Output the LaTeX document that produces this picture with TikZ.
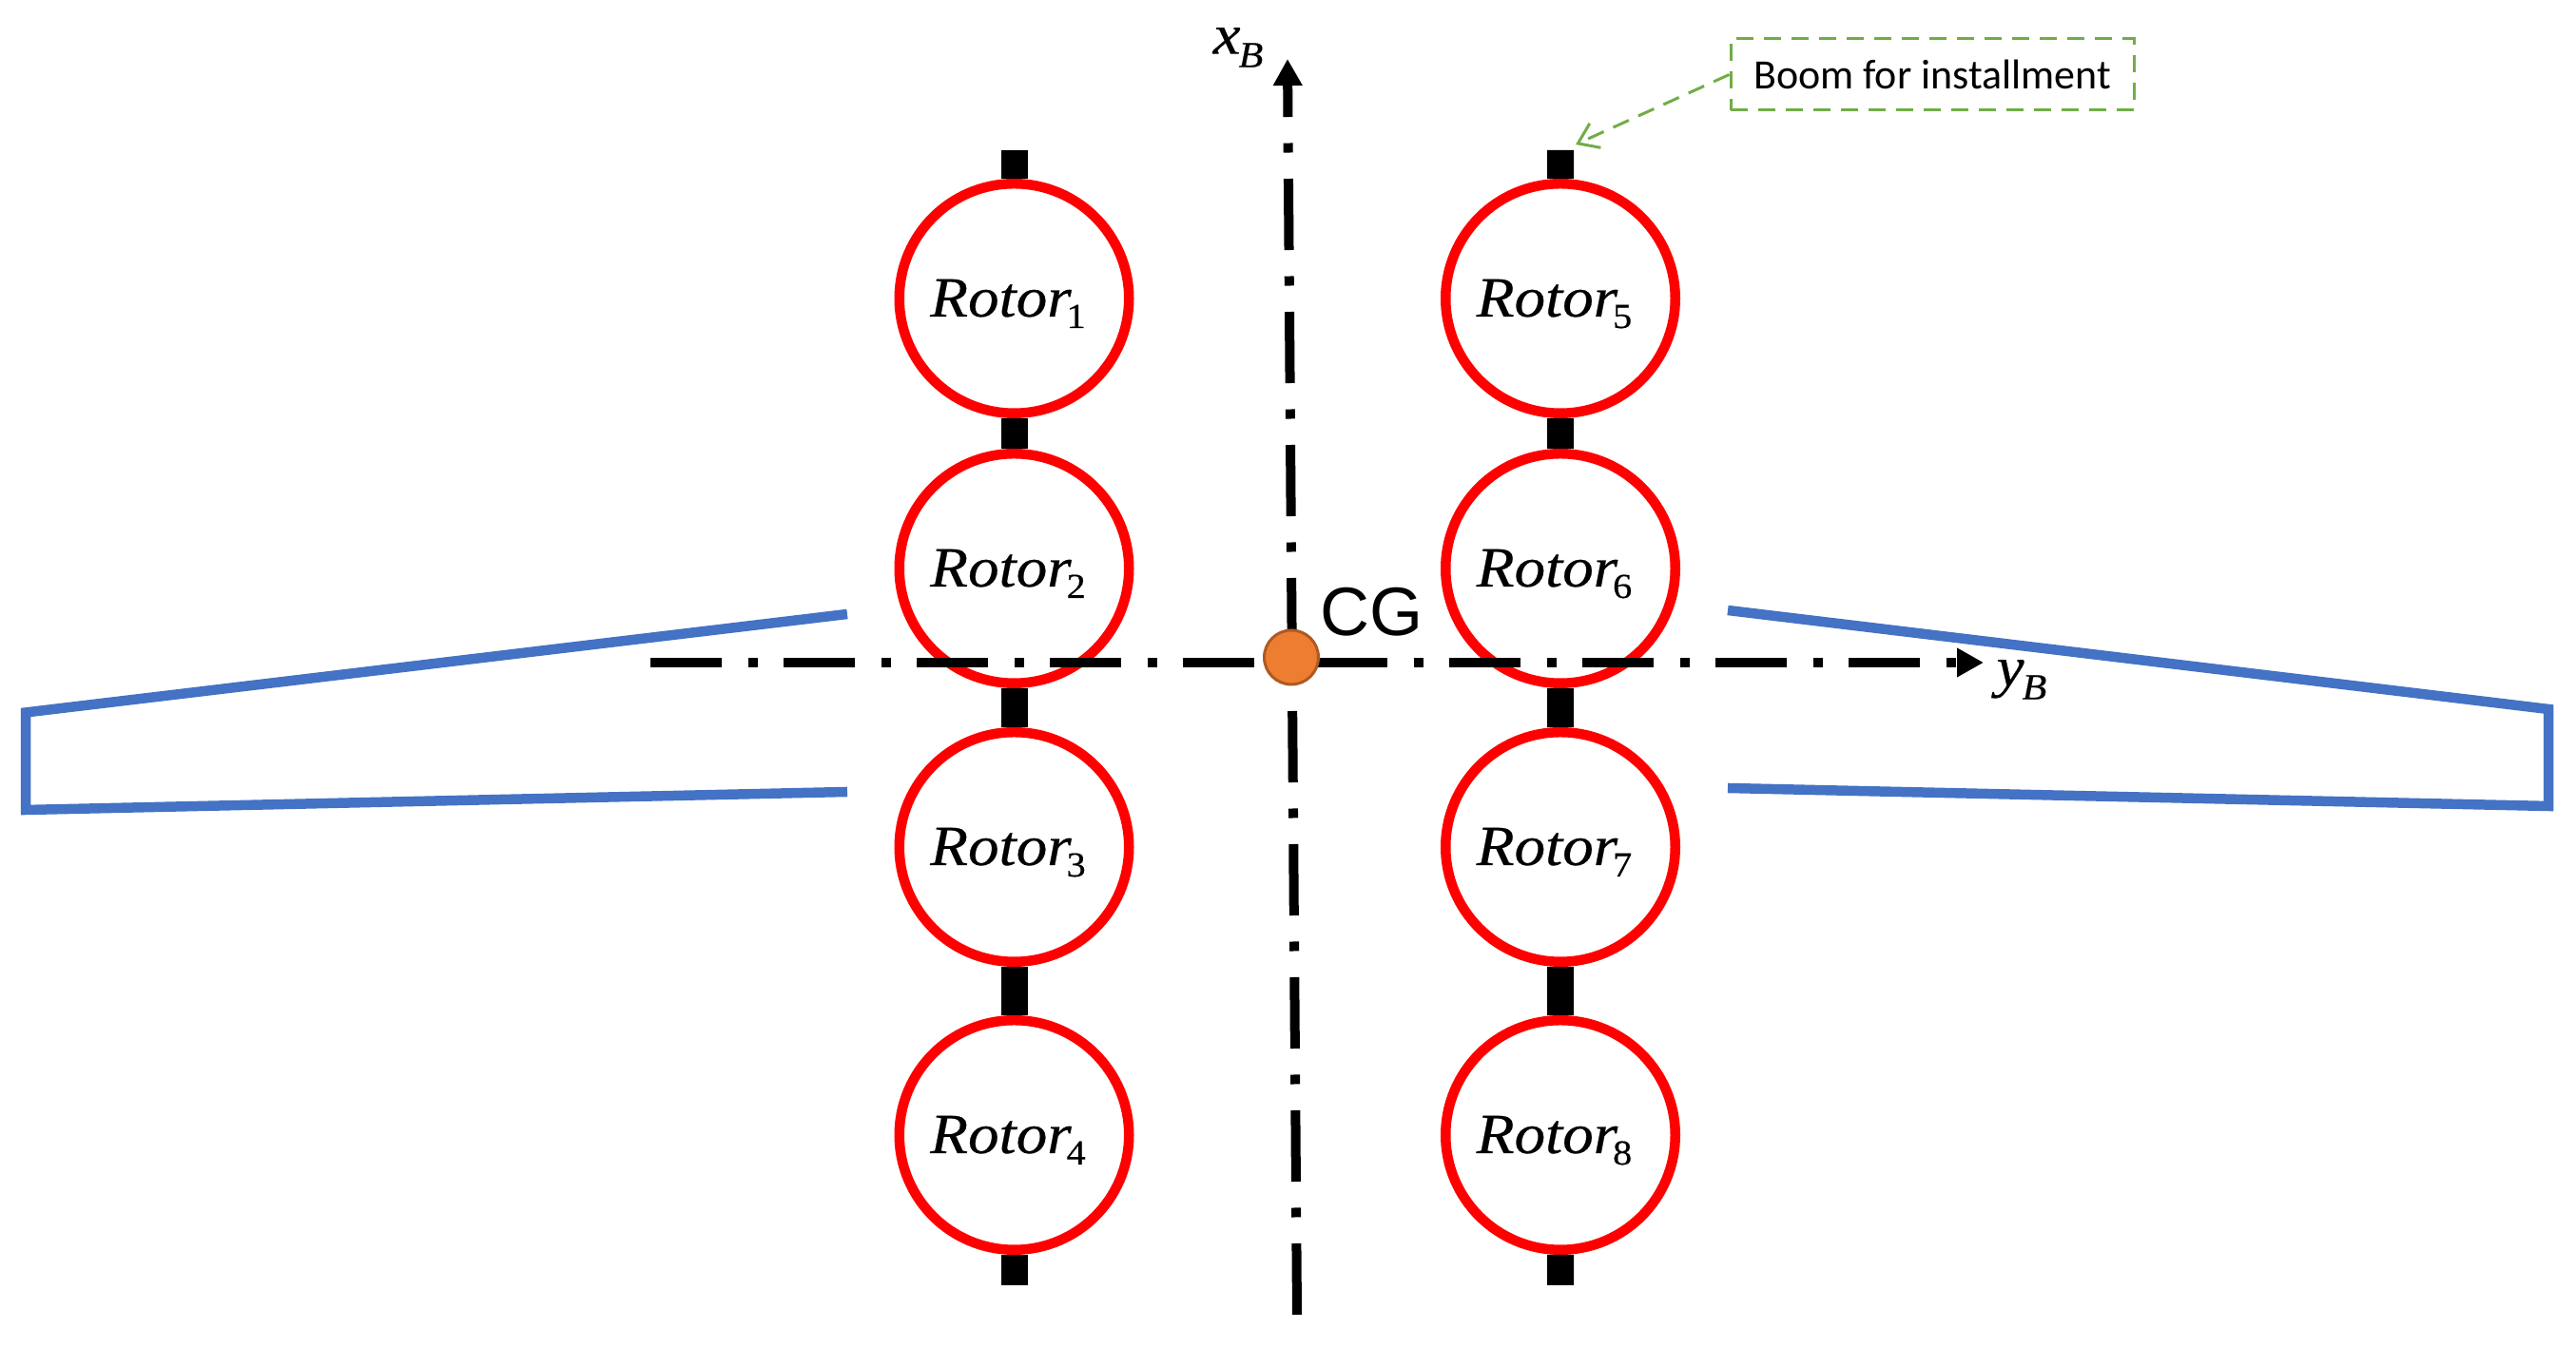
\documentclass[tikz,border=0pt]{standalone}
\usepackage{fontspec}
\usepackage{amsmath}
\usetikzlibrary{arrows.meta,positioning}
\setmainfont{Liberation Sans}
\newfontfamily\calloutfont{Carlito}
\newfontfamily\labelfont[FakeStretch=1.09,FakeBold=0.4]{Liberation Serif}
\definecolor{wingblue}{HTML}{4472C4}
\definecolor{calloutgreen}{HTML}{70AD47}
\definecolor{cgorange}{HTML}{ED7D31}
\definecolor{cgbrown}{HTML}{AE5A21}
\newcommand{\rotorname}[1]{\labelfont\fontsize{17}{18}\selectfont\itshape Rotor\kern-0.05cm\raisebox{-0.12cm}{\fontsize{10.5}{12}\selectfont\upshape #1}\kern0.13cm}
\newcommand{\axisname}[1]{\labelfont\fontsize{17}{18}\selectfont\itshape #1\kern-0.02cm\raisebox{-0.14cm}{\fontsize{11}{12}\selectfont B}}
\tikzset{
  rotor/.style={circle, draw=red, fill=white, line width=0.105cm, minimum size=2.415cm, inner sep=0pt, text height=0.38cm, text depth=0cm},
  boom/.style={line width=0.28cm},
  axis/.style={line width=0.1cm, dash pattern=on 0.75cm off 0.275cm on 0.1cm off 0.275cm, -{Triangle[length=0.28cm,width=0.29cm]}},
  wing/.style={draw=wingblue, line width=0.105cm, line join=miter},
  calloutline/.style={draw=calloutgreen, line width=0.03cm, dash pattern=on 0.18cm off 0.11cm}
}

\begin{document}
\begin{tikzpicture}[node distance=2.84cm]
    \useasboundingbox (0,0) rectangle (27.09,14.18);

    \node[rotor] (rotor1) at (10.665,11.04) {\rotorname{1}};
    \node[rotor, below of=rotor1] (rotor2) {\rotorname{2}};
    \node[rotor, below of=rotor2, node distance=2.93cm] (rotor3) {\rotorname{3}};
    \node[rotor, below of=rotor3, node distance=3.03cm] (rotor4) {\rotorname{4}};
    \node[rotor, right of=rotor1, node distance=5.745cm] (rotor5) {\rotorname{5}};
    \node[rotor, below of=rotor5] (rotor6) {\rotorname{6}};
    \node[rotor, below of=rotor6, node distance=2.93cm] (rotor7) {\rotorname{7}};
    \node[rotor, below of=rotor7, node distance=3.03cm] (rotor8) {\rotorname{8}};

    % boom ends
    \coordinate (boomtopl) at (10.665,12.60);
    \coordinate (boomtopr) at (16.41,12.60);
    \coordinate (boombotl) at (10.665,0.66);
    \coordinate (boombotr) at (16.41,0.66);

    \draw[boom] (boomtopl) -- (rotor1);
    \draw[boom] (rotor1) -- (rotor2);
    \draw[boom] (rotor2) -- (rotor3);
    \draw[boom] (rotor3) -- (rotor4);
    \draw[boom] (rotor4) -- (boombotl);
    \draw[boom] (boomtopr) -- (rotor5);
    \draw[boom] (rotor5) -- (rotor6);
    \draw[boom] (rotor6) -- (rotor7);
    \draw[boom] (rotor7) -- (rotor8);
    \draw[boom] (rotor8) -- (boombotr);

    % axes
    \coordinate (xstart) at (13.64,0.35);
    \coordinate (xend) at (13.54,13.56);
    \coordinate (ystart) at (6.84,7.21);
    \coordinate (yend) at (20.86,7.21);
    \draw[axis] (xstart) -- (xend);
    \draw[axis] (ystart) -- (yend);

    \node (xlabel) at (13.02,13.68) {\axisname{x}};
    \node (ylabel) at (21.26,7.03) {\axisname{y}};

    \node[circle, draw=cgbrown, fill=cgorange, line width=0.03cm, minimum size=0.57cm, inner sep=0pt] (cg) at (13.58,7.265) {};
    \node[font=\fontsize{20.5}{22}\selectfont] (cglabel) at (14.43,7.74) {CG};

    % wings
    \draw[wing] (8.91,7.72) -- (0.27,6.685) -- (0.27,5.66) -- (8.91,5.85);
    \draw[wing] (18.17,7.76) -- (26.80,6.72) -- (26.80,5.70) -- (18.17,5.89);

    % callout
    \node[calloutline, minimum width=4.24cm, minimum height=0.75cm, inner sep=0pt, font=\calloutfont\fontsize{12.5}{14}\selectfont] (callout) at (20.32,13.395) {Boom for installment};
    \coordinate (calloutend) at (16.57,12.66);
    \draw[calloutline, -{Straight Barb[length=0.2cm,width=0.28cm]}] (callout.west) -- (calloutend);
\end{tikzpicture}
\end{document}
